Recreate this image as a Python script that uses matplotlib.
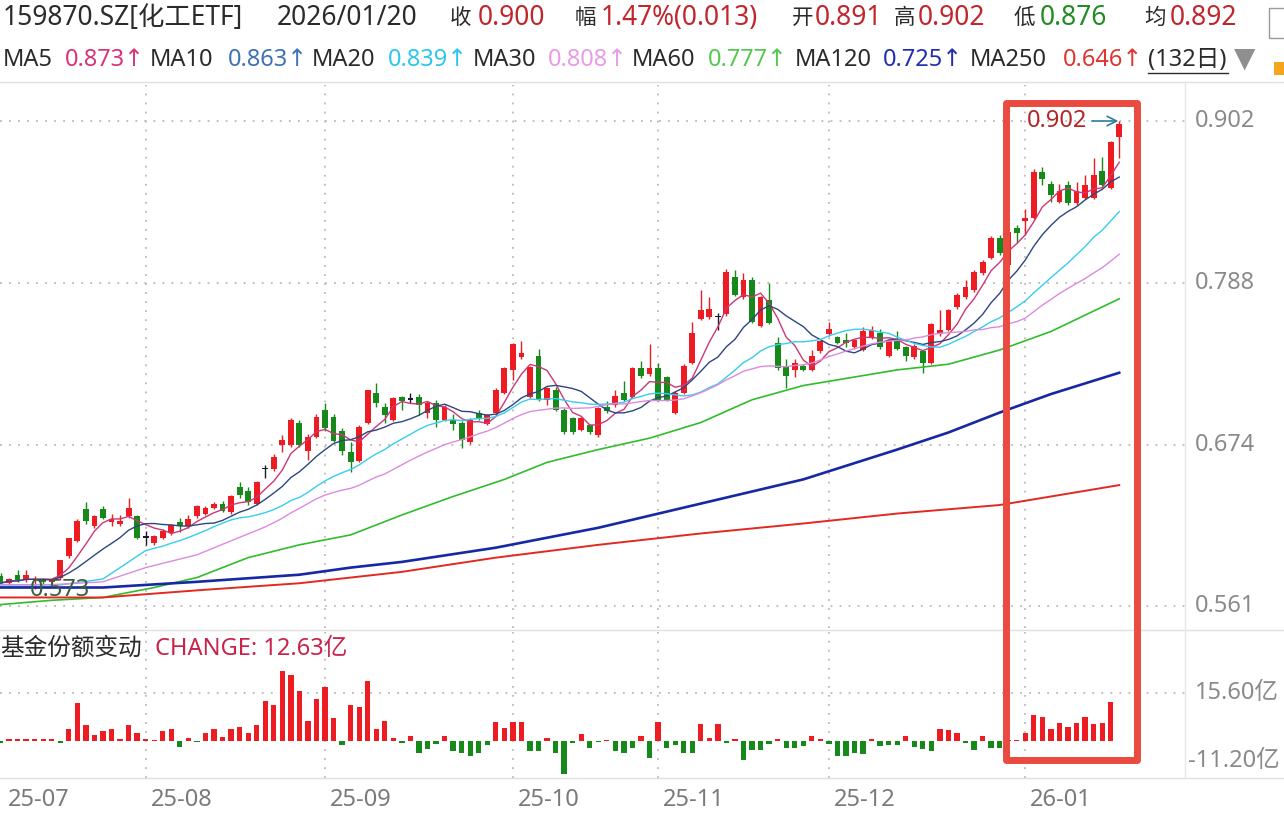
import numpy as np
import pandas as pd
import matplotlib
matplotlib.use("Agg")
import matplotlib.pyplot as plt
from matplotlib.patches import Rectangle

plt.rcParams['font.family'] = ['Noto Sans', 'DejaVu Sans', 'Noto Sans CJK SC']

# ---- data ----
title = '159870.SZ[化工ETF]'
date_str = '2026/01/20'
quote_names = ['收', '幅', '开', '高', '低', '均']
quote_values = ['0.900', '1.47%(0.013)', '0.891', '0.902', '0.876', '0.892']

ma_names = ['MA5', 'MA10', 'MA20', 'MA30', 'MA60', 'MA120', 'MA250']
ma_last = [0.873, 0.863, 0.839, 0.808, 0.777, 0.725, 0.646]
period_label = '(132日)'

opens = [0.582, 0.577, 0.583, 0.579, 0.579, 0.579, 0.578, 0.581, 0.596, 0.607,
         0.629, 0.617, 0.629, 0.620, 0.619, 0.624, 0.624, 0.609, 0.605, 0.609,
         0.612, 0.620, 0.617, 0.624, 0.626, 0.630, 0.633, 0.627, 0.645, 0.642,
         0.633, 0.657, 0.657, 0.674, 0.674, 0.690, 0.670, 0.680, 0.699, 0.694,
         0.684, 0.669, 0.663, 0.690, 0.711, 0.701, 0.692, 0.708, 0.706, 0.708,
         0.697, 0.704, 0.692, 0.692, 0.690, 0.676, 0.697, 0.689, 0.697, 0.711,
         0.727, 0.736, 0.708, 0.737, 0.706, 0.713, 0.699, 0.693, 0.685, 0.688,
         0.681, 0.701, 0.702, 0.711, 0.708, 0.728, 0.724, 0.728, 0.722, 0.697,
         0.711, 0.732, 0.763, 0.764, 0.764, 0.766, 0.792, 0.778, 0.790, 0.758,
         0.776, 0.746, 0.729, 0.727, 0.730, 0.727, 0.740, 0.752, 0.750, 0.748,
         0.743, 0.741, 0.750, 0.753, 0.737, 0.748, 0.743, 0.736, 0.740, 0.732,
         0.752, 0.755, 0.771, 0.778, 0.783, 0.795, 0.806, 0.820, 0.801, 0.827,
         0.832, 0.834, 0.866, 0.858, 0.845, 0.857, 0.844, 0.848, 0.848, 0.867,
         0.855, 0.891]
highs = [0.584, 0.581, 0.586, 0.586, 0.582, 0.581, 0.581, 0.593, 0.609, 0.622,
         0.634, 0.625, 0.631, 0.626, 0.625, 0.637, 0.625, 0.614, 0.611, 0.615,
         0.619, 0.623, 0.625, 0.632, 0.631, 0.634, 0.635, 0.639, 0.648, 0.645,
         0.649, 0.660, 0.668, 0.681, 0.693, 0.692, 0.682, 0.696, 0.704, 0.696,
         0.686, 0.676, 0.688, 0.713, 0.718, 0.704, 0.708, 0.709, 0.711, 0.710,
         0.705, 0.706, 0.702, 0.696, 0.691, 0.693, 0.699, 0.696, 0.714, 0.729,
         0.746, 0.747, 0.730, 0.742, 0.715, 0.715, 0.700, 0.694, 0.694, 0.689,
         0.701, 0.705, 0.713, 0.719, 0.729, 0.733, 0.745, 0.732, 0.723, 0.712,
         0.731, 0.761, 0.783, 0.778, 0.767, 0.798, 0.797, 0.795, 0.792, 0.779,
         0.788, 0.750, 0.735, 0.735, 0.731, 0.741, 0.748, 0.761, 0.751, 0.753,
         0.749, 0.757, 0.758, 0.756, 0.749, 0.754, 0.744, 0.745, 0.741, 0.760,
         0.769, 0.770, 0.781, 0.790, 0.797, 0.804, 0.821, 0.822, 0.825, 0.829,
         0.840, 0.868, 0.870, 0.860, 0.858, 0.860, 0.859, 0.864, 0.876, 0.877,
         0.888, 0.902]
lows = [0.576, 0.576, 0.578, 0.578, 0.573, 0.576, 0.576, 0.579, 0.595, 0.606,
        0.619, 0.616, 0.622, 0.617, 0.617, 0.623, 0.608, 0.604, 0.604, 0.608,
        0.611, 0.613, 0.616, 0.623, 0.625, 0.629, 0.627, 0.626, 0.637, 0.632,
        0.632, 0.651, 0.656, 0.669, 0.673, 0.673, 0.664, 0.679, 0.684, 0.676,
        0.667, 0.655, 0.662, 0.689, 0.701, 0.690, 0.691, 0.699, 0.704, 0.695,
        0.693, 0.687, 0.691, 0.685, 0.672, 0.675, 0.692, 0.688, 0.696, 0.710,
        0.720, 0.735, 0.707, 0.705, 0.702, 0.698, 0.682, 0.682, 0.684, 0.682,
        0.680, 0.697, 0.701, 0.705, 0.707, 0.721, 0.723, 0.705, 0.705, 0.696,
        0.710, 0.731, 0.762, 0.763, 0.755, 0.765, 0.779, 0.777, 0.760, 0.757,
        0.759, 0.727, 0.714, 0.722, 0.726, 0.726, 0.739, 0.751, 0.745, 0.743,
        0.742, 0.740, 0.749, 0.742, 0.736, 0.741, 0.733, 0.735, 0.725, 0.731,
        0.751, 0.754, 0.770, 0.777, 0.782, 0.794, 0.805, 0.808, 0.800, 0.816,
        0.822, 0.833, 0.857, 0.845, 0.844, 0.843, 0.843, 0.847, 0.847, 0.856,
        0.854, 0.876]
closes = [0.577, 0.580, 0.579, 0.583, 0.580, 0.578, 0.579, 0.593, 0.609, 0.621,
          0.621, 0.624, 0.623, 0.622, 0.621, 0.630, 0.609, 0.609, 0.610, 0.614,
          0.618, 0.617, 0.622, 0.631, 0.630, 0.633, 0.628, 0.638, 0.639, 0.634,
          0.648, 0.657, 0.666, 0.678, 0.692, 0.674, 0.680, 0.694, 0.686, 0.677,
          0.670, 0.662, 0.687, 0.713, 0.704, 0.695, 0.707, 0.705, 0.706, 0.702,
          0.704, 0.692, 0.701, 0.689, 0.678, 0.692, 0.693, 0.695, 0.713, 0.728,
          0.745, 0.739, 0.729, 0.706, 0.714, 0.699, 0.683, 0.683, 0.693, 0.683,
          0.700, 0.698, 0.709, 0.706, 0.728, 0.723, 0.728, 0.706, 0.706, 0.711,
          0.730, 0.753, 0.769, 0.770, 0.764, 0.796, 0.780, 0.790, 0.761, 0.778,
          0.760, 0.728, 0.723, 0.732, 0.727, 0.737, 0.747, 0.756, 0.746, 0.746,
          0.748, 0.754, 0.755, 0.743, 0.748, 0.742, 0.737, 0.744, 0.732, 0.759,
          0.755, 0.769, 0.780, 0.785, 0.796, 0.803, 0.820, 0.809, 0.824, 0.823,
          0.834, 0.866, 0.861, 0.850, 0.853, 0.844, 0.853, 0.857, 0.864, 0.857,
          0.887, 0.900]

ma20_early_idx = [0, 6, 12, 17]
ma20_early_val = [0.575, 0.575, 0.580, 0.600]
ma30_early_idx = [0, 6, 12, 17, 23]
ma30_early_val = [0.576, 0.576, 0.578, 0.588, 0.597]
ma60_idx = [0, 6, 12, 18, 23, 29, 35, 41, 47, 53, 59, 64, 70, 76, 82, 88, 94,
            99, 105, 111, 117, 123, 131]
ma60_val = [0.562, 0.565, 0.567, 0.574, 0.581, 0.595, 0.604, 0.611, 0.625, 0.638,
            0.650, 0.662, 0.671, 0.679, 0.690, 0.706, 0.716, 0.721, 0.727, 0.731,
            0.741, 0.754, 0.777]
ma120_idx = [0, 12, 23, 35, 41, 47, 58, 70, 82, 94, 105, 111, 117, 123, 131]
ma120_val = [0.574, 0.574, 0.578, 0.583, 0.588, 0.592, 0.602, 0.616, 0.633,
             0.650, 0.671, 0.683, 0.697, 0.710, 0.725]
ma250_idx = [0, 12, 23, 35, 47, 58, 70, 82, 94, 105, 117, 131]
ma250_val = [0.567, 0.567, 0.572, 0.577, 0.585, 0.595, 0.604, 0.612, 0.619,
             0.626, 0.632, 0.646]

# fund share change, 亿 (no value yet for the last day)
share_change = [-0.5, 0.5, 0.5, 0.5, 0.5, 0.5, 0.5, -0.5, 3.8, 12.2,
                5.1, 1.8, 3.2, 3.8, 0.5, 5.1, 2.7, 0.5, 0.4, 3.2,
                3.8, -1.8, 1.1, -0.4, 2.5, 3.8, 1.3, 3.8, 4.5, 2.7,
                5.1, 13.0, 11.7, 22.7, 21.4, 16.2, 6.5, 13.5, 17.5, 7.6,
                -1.3, 11.7, 11.0, 19.5, 3.8, 6.5, 1.1, -0.5, 1.6, -3.8,
                -2.7, -1.1, 1.6, -3.2, -3.8, -4.9, -3.8, -1.3, 6.3, 4.3,
                6.3, 6.3, -3.2, -3.2, 0.9, -3.8, -10.8, -0.5, 2.4, -2.4,
                -0.4, 0.4, -3.2, -3.8, -2.2, 1.6, -5.4, 6.3, -2.4, -1.3,
                -3.8, -3.8, 5.6, 1.1, 5.6, -0.5, 0.6, -6.3, -3.0, -3.0,
                -1.1, 0.5, -2.4, -2.2, -1.6, 1.6, 0.5, -0.9, -4.9, -4.9,
                -3.8, -4.3, 0.5, -1.6, -1.3, -1.3, 1.6, -1.9, -2.7, -3.2,
                3.8, 3.5, 2.7, -0.5, -3.0, 1.6, -2.4, -2.2, 0.4, 0.4,
                2.7, 8.4, 7.8, 3.8, 5.7, 4.5, 5.7, 7.8, 5.4, 5.7, 12.63]
change_label = 'CHANGE: 12.63亿'
panel_title = '基金份额变动'

price_ticks = [0.902, 0.788, 0.674, 0.561]
share_ticks = [15.60, -11.20]
month_idx = [0, 17, 38, 60, 77, 97, 120]
month_labels = ['25-07', '25-08', '25-09', '25-10', '25-11', '25-12', '26-01']

# ---- layout ----
W, H = 1284, 824
fig = plt.figure(figsize=(W / 100, H / 100), dpi=100)
fig.patch.set_facecolor('white')


def fx(x):
    return x / W


def fy(y):
    return 1 - y / H


PLOT_R = 1185
STEP = 8.54          # pixels per trading day
K = 0.341 / 485      # price per pixel


def price_at(ypx):
    return 0.902 - (ypx - 121) * K


RED = '#ec1c22'
GREEN = '#16891a'
BLACK = '#1a1a2e'
DARK = '#2b2b2b'
GRAY = '#8a8a8a'
GRID = '#b9b9b9'

ax = fig.add_axes([0, fy(628), fx(PLOT_R), (628 - 85) / H])
ax2 = fig.add_axes([0, fy(778), fx(PLOT_R), (778 - 632) / H])
xlim = (-0.5 / STEP, (PLOT_R - 0.5) / STEP)
for a in (ax, ax2):
    a.set_xlim(*xlim)
    a.axis('off')
ax.set_ylim(price_at(628), price_at(85))
unit = 15.6 / 48
ax2.set_ylim(-(778 - 741) * unit, (741 - 632) * unit)

# grid
for p in price_ticks:
    ax.axhline(p, color=GRID, lw=1.3, ls=(0, (1, 4)), zorder=1)
    ax.text(1195 / PLOT_R, p, f'{p:.3f}', transform=ax.get_yaxis_transform(),
            fontsize=17, color=GRAY, va='center', ha='left')
for m in month_idx[1:]:
    ax.axvline(m, color=GRID, lw=1.3, ls=(0, (1, 4)), zorder=1)
    ax2.axvline(m, color=GRID, lw=1.3, ls=(0, (1, 4)), zorder=1)
ax2.axhline(share_ticks[0], color=GRID, lw=1.3, ls=(0, (1, 4)), zorder=1)

# candles
idx = np.arange(len(closes))
o, h, l, c = (np.array(v) for v in (opens, highs, lows, closes))
cols = np.where(c > o, RED, np.where(c < o, GREEN, BLACK))
ax.vlines(idx, l, h, colors=cols, lw=1.0, zorder=2)
ax.bar(idx, np.maximum(np.abs(c - o), 0.0012), bottom=np.minimum(o, c),
       width=0.68, color=cols, linewidth=0, zorder=2)

# moving averages
cs = pd.Series(closes)
ax.plot(idx, cs.rolling(5, min_periods=1).mean(), color='#cc3777', lw=1.0, zorder=3)
ax.plot(idx, cs.rolling(10, min_periods=1).mean(), color='#2d4680', lw=1.0, zorder=3)
ma20 = cs.rolling(20).mean()
ax.plot(ma20_early_idx + list(idx[19:]), ma20_early_val + list(ma20[19:]),
        color='#36cdef', lw=1.0, zorder=3)
ma30 = cs.rolling(30).mean()
ax.plot(ma30_early_idx + list(idx[29:]), ma30_early_val + list(ma30[29:]),
        color='#dd8ade', lw=1.0, zorder=3)
ax.plot(ma60_idx, ma60_val, color='#30bd2c', lw=1.2, zorder=3)
ax.plot(ma120_idx, ma120_val, color='#1628a3', lw=1.9, zorder=3)
ax.plot(ma250_idx, ma250_val, color='#e3291f', lw=1.4, zorder=3)

# extreme labels
hi_i = int(np.argmax(h))
lo_i = int(np.argmin(l))
ax.annotate(f'{h[hi_i]:.3f}', xy=(hi_i - 0.1, h[hi_i]), xytext=(hi_i - 3.7, h[hi_i]),
            ha='right', va='center', fontsize=17, color='#b3262a',
            arrowprops=dict(arrowstyle='->', color='#2f7ea0', lw=1.2,
                            shrinkA=1, shrinkB=0), zorder=5)
ax.text(lo_i - 0.55, price_at(590), f'{l[lo_i]:.3f}', fontsize=17,
        color='#3a5e3c', va='center', ha='left', zorder=5)

# share change bars
sc = np.array(share_change)
ax2.bar(np.arange(len(sc)), sc, width=0.62,
        color=np.where(sc >= 0, RED, GREEN), linewidth=0, zorder=2)
ax2.text(1195 / PLOT_R, share_ticks[0], f'{share_ticks[0]:.2f}亿',
         transform=ax2.get_yaxis_transform(), fontsize=17, color=GRAY, va='center')
ax2.text(1188 / PLOT_R, 0.116, f'{share_ticks[1]:.2f}亿', transform=ax2.transAxes,
         fontsize=17, color=GRAY, va='center')
for m, lab in zip(month_idx, month_labels):
    off = 7.5 if m == 0 else 5
    ax2.text(m + off / STEP, -22 / 146, lab, transform=ax2.get_xaxis_transform(),
             fontsize=17, color='#7a7a7a', va='center', ha='left')

fig.text(fx(0), fy(649), panel_title, fontsize=17, color=DARK, va='center')
fig.text(fx(155), fy(649), change_label, fontsize=17, color='#c8234a', va='center')

# frame lines
for yy in (82, 630, 778):
    fig.add_artist(plt.Line2D([0, 1], [fy(yy), fy(yy)], color='#e0e0e0', lw=1.0))
fig.add_artist(plt.Line2D([fx(PLOT_R), fx(PLOT_R)], [fy(82), fy(778)],
                          color='#e6e6e6', lw=1.0))

# header row 1
fig.text(fx(3), fy(18), title, fontsize=19, color=DARK, va='center')
fig.text(fx(277), fy(18), date_str, fontsize=19, color=DARK, va='center')
name_x = [450, 575, 792, 894, 1014, 1144]
val_x = [478, 601, 815, 918, 1040, 1170]
for nm, vl, nx, vx in zip(quote_names, quote_values, name_x, val_x):
    vcol = '#238b23' if nm == '低' else '#c0272d'
    fig.text(fx(nx), fy(18), nm, fontsize=15.5, color=DARK, va='center')
    fig.text(fx(vx), fy(18), vl, fontsize=19, color=vcol, va='center')

# header row 2
ma_head_cols = ['#d9337a', '#3f72b5', '#2cc6ee', '#e99be6', '#53c94f', '#1f2fb0', '#e0342f']
ma_name_x = [3, 150, 312, 473, 632, 795, 970]
ma_val_x = [65, 228, 388, 548, 708, 883, 1063]
for nm, v, colr, nx, vx in zip(ma_names, ma_last, ma_head_cols, ma_name_x, ma_val_x):
    fig.text(fx(nx), fy(60), nm, fontsize=17, color=DARK, va='center')
    fig.text(fx(vx), fy(60), f'{v:.3f}↑', fontsize=17, color=colr, va='center')
fig.text(fx(1148), fy(60), period_label, fontsize=17, color=DARK, va='center')
fig.add_artist(plt.Line2D([fx(1148), fx(1228)], [fy(73), fy(73)], color=DARK, lw=1.0))
fig.text(fx(1234), fy(59), '▼', fontsize=20, color='#8f8f8f', va='center',
         family='DejaVu Sans')
fig.add_artist(Rectangle((fx(1269), fy(38)), fx(20), 30 / H, transform=fig.transFigure,
                         facecolor='none', edgecolor='#9a9a9a', lw=1.0))
fig.add_artist(Rectangle((fx(1274), fy(75)), fx(12), 13 / H, transform=fig.transFigure,
                         facecolor='#f4a51c', edgecolor='none'))

# highlight box
fig.add_artist(Rectangle((fx(1006), fy(760)), fx(1137 - 1006), (760 - 103) / H,
                         transform=fig.transFigure, facecolor='none',
                         edgecolor='#ea4a40', lw=5, joinstyle='round', zorder=10))

fig.savefig('out.png', dpi=100, facecolor='white')
